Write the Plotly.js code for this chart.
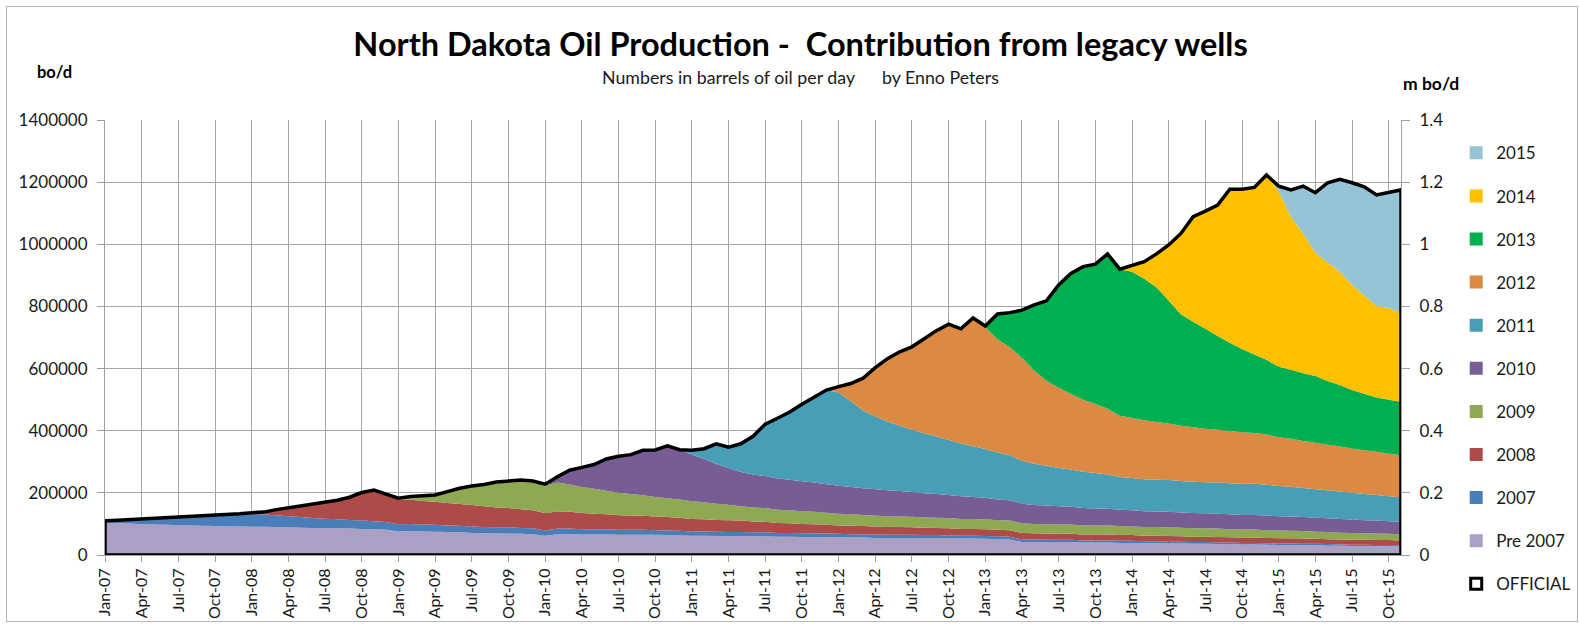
<!DOCTYPE html>
<html>
<head>
<meta charset="utf-8">
<script src="https://cdn.plot.ly/plotly-3.0.1.min.js"></script>
<style>
  body { margin: 0; background: #fff; }
  #frame { position: absolute; left: 6px; top: 6px; width: 1570px; height: 614px; border: 1px solid #b5b5b5; pointer-events: none; }
  #chart { position: absolute; left: 0; top: 0; width: 1579px; height: 626px; }
</style>
</head>
<body>
<div id="chart"></div>
<div id="frame"></div>
<script>
// месяцы на оси X: Jan-07 ... Nov-15
const monthNames = ['Jan', 'Feb', 'Mar', 'Apr', 'May', 'Jun', 'Jul', 'Aug', 'Sep', 'Oct', 'Nov', 'Dec'];
const yearLabels = ['07', '08', '09', '10', '11', '12', '13', '14', '15'];
const months = [];
yearLabels.forEach(y => monthNames.forEach(m => months.push(m + '-' + y)));
months.length = 107; // данные заканчиваются на Nov-15

// все значения в тысячах баррелей в сутки
const official = [
  110, 112, 114, 116, 118, 120, 122, 123, 125, 127, 129, 133,
  136, 138, 146, 152, 158, 166, 171, 176, 186, 201, 209, 197,
  183, 188, 191, 193, 204, 215, 222, 227, 235, 237, 241, 238,
  228, 252, 273, 282, 291, 309, 318, 323, 337, 338, 351, 339,
  337, 342, 358, 347, 358, 382, 421, 440, 460, 485, 508, 531,
  542, 552, 569, 603, 632, 654, 670, 695, 722, 743, 728, 763,
  737, 776, 780, 788, 805, 818, 869, 906, 928, 936, 969, 920,
  932, 944, 969, 998, 1035, 1089, 1107, 1126, 1177, 1177, 1183, 1223,
  1187, 1175, 1187, 1166, 1198, 1209, 1198, 1185, 1159, 1166, 1175
];
const pre2007 = [
  104, 102, 101, 99, 98, 97, 96, 95, 94, 93, 92, 92,
  91, 91, 90, 89, 88, 87, 86, 86, 85, 84, 83, 81,
  76, 77, 76, 75, 74, 73, 71, 70, 69, 69, 68, 67,
  62, 67, 67, 66, 66, 66, 65, 65, 65, 65, 64, 63,
  62, 62, 61, 61, 61, 60, 60, 59, 59, 58, 58, 57,
  57, 56, 56, 55, 55, 55, 55, 54, 54, 54, 53, 53,
  52, 51, 50, 42, 42, 41, 41, 41, 40, 40, 40, 39,
  39, 38, 38, 37, 37, 36, 36, 35, 35, 34, 34, 33,
  32, 32, 31, 31, 30, 30, 29, 29, 28, 28, 27
];
const wells2007 = [
  6, 10, 13, 17, 20, 23, 26, 28, 31, 34, 37, 41,
  40, 39, 38, 36, 34, 32, 31, 29, 28, 27, 26, 25,
  23, 23, 22, 22, 21, 21, 21, 20, 20, 20, 19, 19,
  17, 18, 18, 17, 17, 17, 16, 16, 16, 15, 15, 15,
  14, 14, 14, 13, 13, 13, 13, 12, 12, 12, 12, 12,
  11, 11, 11, 11, 10, 10, 10, 10, 10, 9, 9, 9,
  9, 9, 9, 8, 8, 8, 8, 8, 7, 7, 7, 7,
  7, 6, 6, 6, 6, 6, 6, 6, 5, 5, 5, 5,
  5, 5, 5, 5, 5, 4, 4, 4, 4, 4, 4
];
const wells2008 = [
  0, 0, 0, 0, 0, 0, 0, 0, 0, 0, 0, 0,
  5, 8, 18, 27, 36, 47, 54, 61, 73, 90, 100, 91,
  80, 78, 76, 74, 72, 70, 69, 67, 64, 62, 60, 58,
  55, 56, 54, 52, 50, 48, 47, 46, 45, 44, 43, 42,
  40, 39, 38, 38, 37, 35, 34, 32, 31, 30, 29, 28,
  27, 27, 26, 26, 25, 25, 24, 24, 23, 23, 22, 22,
  22, 21, 21, 21, 20, 20, 20, 19, 19, 19, 19, 18,
  18, 18, 18, 18, 17, 17, 17, 17, 17, 17, 17, 17,
  17, 17, 17, 16, 16, 16, 16, 16, 16, 16, 16
];
const wells2009 = [
  0, 0, 0, 0, 0, 0, 0, 0, 0, 0, 0, 0,
  0, 0, 0, 0, 0, 0, 0, 0, 0, 0, 0, 0,
  4, 10, 17, 22, 37, 51, 61, 70, 82, 86, 94, 94,
  90, 92, 88, 84, 80, 76, 72, 69, 66, 63, 61, 59,
  57, 55, 52, 50, 46, 45, 44, 43, 42, 41, 40, 39,
  38, 37, 36, 35, 34, 34, 34, 33, 33, 33, 32, 32,
  32, 31, 31, 31, 30, 30, 30, 30, 29, 29, 29, 29,
  28, 28, 28, 28, 28, 27, 27, 27, 26, 26, 26, 25,
  25, 24, 24, 23, 23, 22, 22, 21, 21, 20, 20
];
const wells2010 = [
  0, 0, 0, 0, 0, 0, 0, 0, 0, 0, 0, 0,
  0, 0, 0, 0, 0, 0, 0, 0, 0, 0, 0, 0,
  0, 0, 0, 0, 0, 0, 0, 0, 0, 0, 0, 0,
  4, 19, 46, 63, 78, 102, 118, 127, 145, 151, 168, 160,
  150, 140, 128, 118, 110, 106, 103, 100, 98, 96, 94, 92,
  90, 88, 86, 85, 84, 82, 80, 78, 76, 74, 73, 71,
  69, 67, 65, 63, 61, 60, 58, 57, 56, 55, 54, 53,
  52, 51, 50, 50, 49, 49, 48, 48, 48, 47, 47, 47,
  46, 46, 45, 45, 44, 44, 43, 42, 42, 41, 40
];
const wells2011 = [
  0, 0, 0, 0, 0, 0, 0, 0, 0, 0, 0, 0,
  0, 0, 0, 0, 0, 0, 0, 0, 0, 0, 0, 0,
  0, 0, 0, 0, 0, 0, 0, 0, 0, 0, 0, 0,
  0, 0, 0, 0, 0, 0, 0, 0, 0, 0, 0, 0,
  14, 32, 65, 67, 91, 123, 167, 194, 218, 248, 275, 303,
  300, 276, 250, 234, 222, 210, 200, 193, 185, 177, 170, 163,
  157, 151, 145, 138, 133, 128, 123, 120, 117, 114, 110, 105,
  104, 103, 102, 102, 101, 101, 100, 100, 100, 100, 100, 99,
  97, 96, 94, 92, 90, 88, 86, 84, 82, 80, 79
];
const wells2012 = [
  0, 0, 0, 0, 0, 0, 0, 0, 0, 0, 0, 0,
  0, 0, 0, 0, 0, 0, 0, 0, 0, 0, 0, 0,
  0, 0, 0, 0, 0, 0, 0, 0, 0, 0, 0, 0,
  0, 0, 0, 0, 0, 0, 0, 0, 0, 0, 0, 0,
  0, 0, 0, 0, 0, 0, 0, 0, 0, 0, 0, 0,
  19, 57, 104, 157, 202, 238, 267, 303, 341, 373, 369, 413,
  392, 364, 348, 332, 300, 274, 258, 243, 232, 222, 212, 197,
  194, 190, 186, 182, 178, 175, 172, 170, 168, 166, 164, 162,
  157, 154, 151, 149, 147, 145, 143, 141, 139, 137, 135
];
const wells2013 = [
  0, 0, 0, 0, 0, 0, 0, 0, 0, 0, 0, 0,
  0, 0, 0, 0, 0, 0, 0, 0, 0, 0, 0, 0,
  0, 0, 0, 0, 0, 0, 0, 0, 0, 0, 0, 0,
  0, 0, 0, 0, 0, 0, 0, 0, 0, 0, 0, 0,
  0, 0, 0, 0, 0, 0, 0, 0, 0, 0, 0, 0,
  0, 0, 0, 0, 0, 0, 0, 0, 0, 0, 0, 0,
  4, 82, 111, 153, 211, 257, 331, 388, 428, 450, 498, 472,
  470, 455, 434, 395, 359, 340, 322, 302, 284, 268, 252, 240,
  227, 222, 218, 215, 205, 198, 188, 182, 175, 174, 172
];
const wells2014 = [
  0, 0, 0, 0, 0, 0, 0, 0, 0, 0, 0, 0,
  0, 0, 0, 0, 0, 0, 0, 0, 0, 0, 0, 0,
  0, 0, 0, 0, 0, 0, 0, 0, 0, 0, 0, 0,
  0, 0, 0, 0, 0, 0, 0, 0, 0, 0, 0, 0,
  0, 0, 0, 0, 0, 0, 0, 0, 0, 0, 0, 0,
  0, 0, 0, 0, 0, 0, 0, 0, 0, 0, 0, 0,
  0, 0, 0, 0, 0, 0, 0, 0, 0, 0, 0, 0,
  20, 55, 107, 180, 260, 338, 379, 421, 494, 514, 538, 595,
  565, 493, 450, 397, 381, 365, 338, 316, 294, 295, 285
];
const wells2015 = [
  0, 0, 0, 0, 0, 0, 0, 0, 0, 0, 0, 0,
  0, 0, 0, 0, 0, 0, 0, 0, 0, 0, 0, 0,
  0, 0, 0, 0, 0, 0, 0, 0, 0, 0, 0, 0,
  0, 0, 0, 0, 0, 0, 0, 0, 0, 0, 0, 0,
  0, 0, 0, 0, 0, 0, 0, 0, 0, 0, 0, 0,
  0, 0, 0, 0, 0, 0, 0, 0, 0, 0, 0, 0,
  0, 0, 0, 0, 0, 0, 0, 0, 0, 0, 0, 0,
  0, 0, 0, 0, 0, 0, 0, 0, 0, 0, 0, 0,
  16, 86, 152, 193, 257, 297, 329, 350, 358, 371, 397
];

// слои снизу вверх
const layerNames = ['Pre 2007', '2007', '2008', '2009', '2010', '2011', '2012', '2013', '2014', '2015'];
const layerValues = [pre2007, wells2007, wells2008, wells2009, wells2010, wells2011, wells2012, wells2013, wells2014, wells2015];
const layerColors = ['#ab9fc4', '#4a7ebb', '#ad4b49', '#8fa852', '#785c94', '#479eb5', '#db8943', '#00b050', '#ffc000', '#96c4d7'];

const tickMonths = months.filter((m, i) => i % 3 === 0);
const font = 'Lato, "Open Sans", sans-serif';

const data = [];
// сами площади (стек), левая ось в bo/d
layerValues.forEach((vals, k) => {
    data.push({
        x: months,
        y: vals.map(v => v * 1000),
        type: 'scatter',
        mode: 'none',
        stackgroup: 'one',
        fillcolor: layerColors[k],
        name: layerNames[k],
        showlegend: false,
        hoverinfo: 'x+y+name'
    });
});
// контур OFFICIAL на правой оси (m bo/d), замкнутый как area-серия в Excel
data.push({
    x: [months[0]].concat(months, [months[months.length - 1], months[0]]),
    y: [0].concat(official.map(v => v / 1000), [0, 0]),
    yaxis: 'y2',
    type: 'scatter',
    mode: 'lines',
    line: { color: '#000', width: 3.5 },
    name: 'OFFICIAL',
    showlegend: false,
    hoverinfo: 'skip'
});
// легенда: квадратики, сверху 2015
for (let k = layerNames.length - 1; k >= 0; k--) {
    data.push({
        x: [null], y: [null],
        type: 'scatter', mode: 'markers',
        marker: { symbol: 'square', size: 13, color: layerColors[k] },
        name: layerNames[k],
        legendgroup: 'g' + k,
        hoverinfo: 'skip'
    });
}
data.push({
    x: [null], y: [null],
    type: 'scatter', mode: 'markers',
    marker: { symbol: 'square-open', size: 11, color: '#000', line: { width: 3, color: '#000' } },
    name: 'OFFICIAL',
    legendgroup: 'off',
    hoverinfo: 'skip'
});

const layout = {
    width: 1579,
    height: 626,
    margin: { l: 105, r: 178, t: 120, b: 71, autoexpand: false },
    paper_bgcolor: '#fff',
    plot_bgcolor: '#fff',
    font: { family: font, size: 17, color: '#1a1a1a' },
    title: {
        text: '<b>North Dakota Oil Production -  Contribution from legacy wells</b>',
        font: { family: font, size: 32.5, color: '#000' },
        xref: 'container', x: 0.507,
        yref: 'container', y: 0.928, yanchor: 'middle'
    },
    showlegend: true,
    legend: {
        x: 1.0426, xanchor: 'left',
        y: 0.965, yanchor: 'top',
        traceorder: 'grouped',
        tracegroupgap: 18,
        maxheight: 600,
        font: { family: font, size: 17, color: '#1a1a1a' },
        bgcolor: 'rgba(0,0,0,0)'
    },
    xaxis: {
        type: 'category',
        categoryorder: 'array',
        categoryarray: months,
        range: [0, months.length - 1],
        tickmode: 'array',
        tickvals: tickMonths,
        ticktext: tickMonths,
        tickangle: -90,
        tickfont: { family: font, size: 16, color: '#1a1a1a' },
        ticks: 'outside',
        ticklen: 6,
        tickcolor: '#a0a0a0',
        showgrid: true,
        gridcolor: '#a6a6a6',
        gridwidth: 1,
        showline: true,
        linecolor: '#a0a0a0',
        zeroline: false
    },
    yaxis: {
        range: [0, 1400000],
        dtick: 200000,
        tickformat: 'd',
        tickfont: { family: font, size: 17, color: '#1a1a1a' },
        ticks: 'outside',
        ticklen: 7,
        tickcolor: '#a0a0a0',
        ticklabelstandoff: 6,
        showgrid: true,
        gridcolor: '#a6a6a6',
        gridwidth: 1,
        showline: true,
        linecolor: '#a0a0a0',
        zeroline: false
    },
    yaxis2: {
        overlaying: 'y',
        side: 'right',
        anchor: 'x',
        range: [0, 1.4],
        dtick: 0.2,
        tickfont: { family: font, size: 17, color: '#1a1a1a' },
        ticks: 'outside',
        ticklen: 8,
        tickcolor: '#a0a0a0',
        ticklabelstandoff: 6,
        showgrid: false,
        showline: true,
        linecolor: '#a0a0a0',
        zeroline: false
    },
    annotations: [
        {
            text: 'Numbers in barrels of oil per day&nbsp;&nbsp;&nbsp;&nbsp;&nbsp;&nbsp;by Enno Peters',
            xref: 'paper', yref: 'paper', x: 0.537, y: 1.099,
            xanchor: 'center', yanchor: 'middle', showarrow: false,
            font: { family: font, size: 17.8, color: '#1a1a1a' }
        },
        {
            text: '<b>bo/d</b>',
            xref: 'paper', yref: 'paper', x: -0.039, y: 1.11,
            xanchor: 'center', yanchor: 'middle', showarrow: false,
            font: { family: font, size: 16.5, color: '#000' }
        },
        {
            text: '<b>m bo/d</b>',
            xref: 'paper', yref: 'paper', x: 1.0231, y: 1.085,
            xanchor: 'center', yanchor: 'middle', showarrow: false,
            font: { family: font, size: 17.5, color: '#000' }
        }
    ]
};

Plotly.newPlot('chart', data, layout, { displayModeBar: false, responsive: false });
</script>
</body>
</html>
